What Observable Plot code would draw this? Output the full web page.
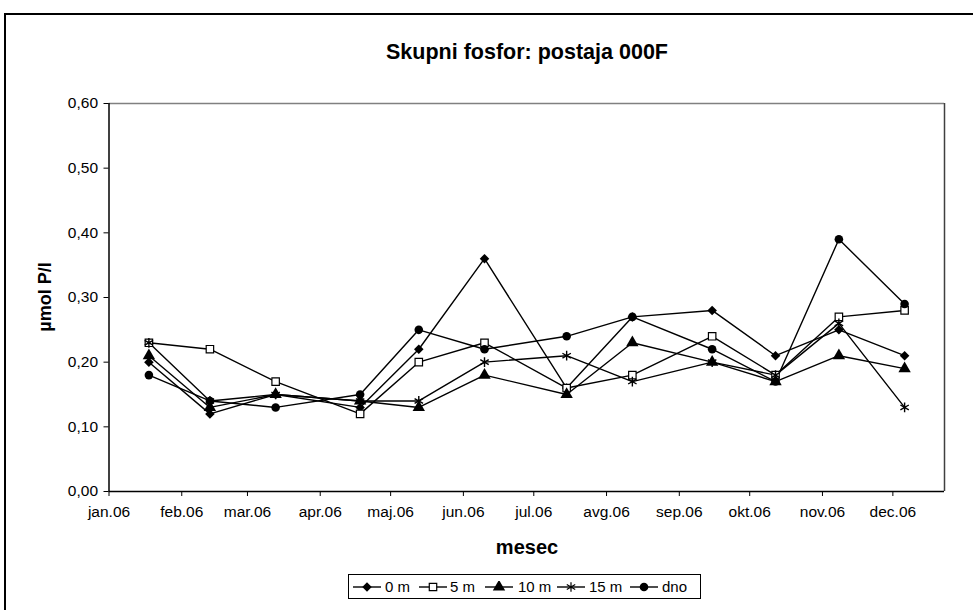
<!DOCTYPE html>
<html>
<head>
<meta charset="utf-8">
<script src="https://cdn.jsdelivr.net/npm/d3@7"></script>
<script src="https://cdn.jsdelivr.net/npm/@observablehq/plot@0.6"></script>
<style>
  body { margin: 0; background: #fff; font-family: "Liberation Sans", Arial, sans-serif; }
  #chart { position: relative; width: 973px; height: 610px; overflow: hidden; background: #fff; }
  #chart > svg { position: absolute; left: 0; top: 0; }
  #border { position: absolute; left: 4px; top: 13px; width: 1000px; height: 640px; border: 2px solid #000; box-sizing: border-box; }
  #title { position: absolute; left: 277px; width: 500px; top: 39px; line-height: 26px; text-align: center; font-weight: bold; font-size: 21.5px; }
  #ylabel { position: absolute; left: 45px; top: 297px; transform: translate(-50%, -50%) rotate(-90deg); font-weight: bold; font-size: 18px; white-space: nowrap; }
  #xlabel { position: absolute; left: 277px; width: 500px; top: 535px; line-height: 24px; text-align: center; font-weight: bold; font-size: 20px; }
  #legend { position: absolute; left: 348px; top: 574px; width: 353px; height: 25px; border: 1px solid #000; box-sizing: border-box; font-size: 15px; }
  #legend svg { position: absolute; top: 6px; }
  #legend span { position: absolute; top: 3px; line-height: 17px; }
</style>
</head>
<body>
<div id="chart">
  <div id="border"></div>
  <div id="title">Skupni fosfor: postaja 000F</div>
  <div id="ylabel">µmol P/l</div>
  <div id="xlabel">mesec</div>
  <div id="legend"></div>
</div>
<script>
// Sampling dates (one cruise per month, 2006)
const sampleDates = ["2006-01-18", "2006-02-13", "2006-03-13", "2006-04-18", "2006-05-13", "2006-06-10",
                     "2006-07-15", "2006-08-12", "2006-09-15", "2006-10-12", "2006-11-08", "2006-12-06"];

// Total phosphorus (µmol P/l) by depth
const depth0m  = [0.20, 0.12, 0.15, 0.13, 0.22, 0.36, 0.16, 0.27, 0.28, 0.21, 0.25, 0.21];
const depth5m  = [0.23, 0.22, 0.17, 0.12, 0.20, 0.23, 0.16, 0.18, 0.24, 0.18, 0.27, 0.28];
const depth10m = [0.21, 0.13, 0.15, 0.14, 0.13, 0.18, 0.15, 0.23, 0.20, 0.17, 0.21, 0.19];
const depth15m = [0.23, 0.14, 0.15, 0.14, 0.14, 0.20, 0.21, 0.17, 0.20, 0.18, 0.26, 0.13];
const depthDno = [0.18, 0.14, 0.13, 0.15, 0.25, 0.22, 0.24, 0.27, 0.22, 0.17, 0.39, 0.29];

const seriesNames = ["0 m", "5 m", "10 m", "15 m", "dno"];

// Axis ticks
const monthStarts = ["2006-01-01", "2006-02-01", "2006-03-01", "2006-04-01", "2006-05-01", "2006-06-01",
                     "2006-07-01", "2006-08-01", "2006-09-01", "2006-10-01", "2006-11-01", "2006-12-01"];
const monthLabels = ["jan.06", "feb.06", "mar.06", "apr.06", "maj.06", "jun.06",
                     "jul.06", "avg.06", "sep.06", "okt.06", "nov.06", "dec.06"];
const yTicks = [0, 0.1, 0.2, 0.3, 0.4, 0.5, 0.6];

const parse = d3.utcParse("%Y-%m-%d");
const dates = sampleDates.map(parse);
const tickDates = monthStarts.map(parse);
const xDomain = [parse("2006-01-01"), parse("2006-12-23")];

// Marker style per series
const styles = {
  "0 m":  {symbol: "diamond2", fill: "#000", stroke: "none", r: 4.3},
  "5 m":  {symbol: "square",   fill: "#fff", stroke: "#000", r: 4.2},
  "10 m": {symbol: "triangle", fill: "#000", stroke: "none", r: 4.6},
  "15 m": {symbol: "asterisk", fill: "none", stroke: "#000", r: 4.6},
  "dno":  {symbol: "circle",   fill: "#000", stroke: "none", r: 4.3}
};

const valuesBySeries = [depth0m, depth5m, depth10m, depth15m, depthDno];
const rows = [];
seriesNames.forEach((name, s) => {
  valuesBySeries[s].forEach((v, i) => rows.push({series: name, date: dates[i], value: v}));
});

const fmt = d => d.toFixed(2).replace(".", ",");

const marks = [
  // plot-area border: grey top, dark right
  Plot.ruleY([0.6], {stroke: "#808080", strokeWidth: 1.5}),
  Plot.ruleX([xDomain[1]], {stroke: "#404040", strokeWidth: 1.5}),
  Plot.axisY({ticks: yTicks, tickFormat: fmt, tickSize: 5, tickPadding: 6, fontSize: 15.5, label: null}),
  Plot.axisX({ticks: tickDates, tickFormat: (d, i) => monthLabels[i], tickSize: 5, tickPadding: 9, fontSize: 15.5, label: null}),
  Plot.ruleX([xDomain[0]], {stroke: "#000", strokeWidth: 1.5}),
  Plot.ruleY([0], {stroke: "#000", strokeWidth: 1.5}),
  Plot.line(rows, {x: "date", y: "value", z: "series", stroke: "#000", strokeWidth: 1.4})
];
for (const name of seriesNames) {
  const st = styles[name];
  marks.push(Plot.dot(rows.filter(d => d.series === name), {
    x: "date", y: "value", symbol: () => st.symbol, r: st.r,
    fill: st.fill, stroke: st.stroke, strokeWidth: name === "15 m" ? 1.4 : 1.2
  }));
}

const chart = Plot.plot({
  width: 973,
  height: 610,
  marginLeft: 108.5,
  marginRight: 29,
  marginTop: 103,
  marginBottom: 119,
  style: {background: "transparent", fontFamily: "Liberation Sans, Arial, sans-serif", color: "#000"},
  x: {type: "utc", domain: xDomain},
  y: {domain: [0, 0.6]},
  symbol: {type: "identity"},
  marks
});
document.getElementById("chart").appendChild(chart);

// Legend: line sample with the series marker, then its name
const legendSampleX = [4, 70, 136, 208, 281];
const legendTextX = [36, 101, 169, 240, 313];
const legend = d3.select("#legend");
seriesNames.forEach((name, i) => {
  const st = styles[name];
  const svg = legend.append("svg").attr("width", 28).attr("height", 12).style("left", legendSampleX[i] + "px");
  svg.append("line").attr("x1", 0).attr("x2", 28).attr("y1", 6).attr("y2", 6).attr("stroke", "#000").attr("stroke-width", 1.4);
  const sym = {diamond2: d3.symbolDiamond2, square: d3.symbolSquare, triangle: d3.symbolTriangle,
               asterisk: d3.symbolAsterisk, circle: d3.symbolCircle}[st.symbol];
  svg.append("path").attr("transform", "translate(14,6)")
    .attr("d", d3.symbol(sym, Math.PI * st.r * st.r)())
    .attr("fill", st.fill).attr("stroke", st.stroke).attr("stroke-width", 1.2);
  legend.append("span").style("left", legendTextX[i] + "px").text(name);
});
</script>
</body>
</html>
